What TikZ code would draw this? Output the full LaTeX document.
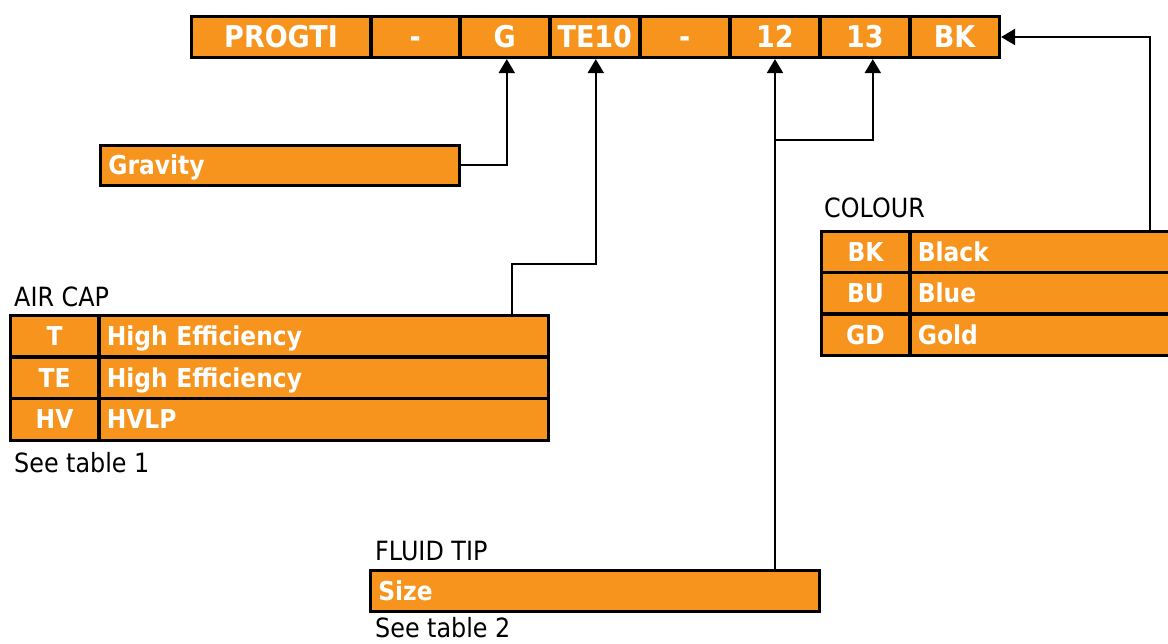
\documentclass[tikz,border=0pt]{standalone}
\usepackage{fontspec}
\setmainfont{DejaVu Sans}[FakeStretch=0.9]
\usetikzlibrary{arrows.meta}
\definecolor{org}{HTML}{F7941D}
\newcommand\cellfnt{\bfseries\fontsize{26}{30}\selectfont}
\newcommand\barfnt{\bfseries\fontsize{30}{34}\selectfont}
\newcommand\lblfnt{\fontsize{26.5}{30}\selectfont}
\begin{document}
\begin{tikzpicture}[x=1pt,y=-1pt,
  cell/.style={draw=black, fill=org, line width=3.6pt, text=white, font=\cellfnt,
    inner sep=0pt, anchor=north west, text height=20pt, text depth=1pt},
  bar/.style={cell, font=\barfnt, text height=22pt, text depth=0pt, minimum height=41pt},
  row/.style={cell, minimum height=41.67pt},
  lcell/.style={row, inner xsep=8pt, align=left},
  lbl/.style={anchor=base west, font=\lblfnt, text=black, inner sep=0pt},
  conn/.style={draw=black, line width=2.2pt},
  arr/.style={conn, -{Triangle[width=16pt,length=14pt]}}
]
\useasboundingbox (0,0) rectangle (1168,643);

\coordinate (ka) at (512,264);
\coordinate (kb) at (775,140);
\coordinate (kc) at (1150,37);

% top code bar
\node[bar, minimum width=179.5pt] (cP) at (189.5,14.5) {PROGTI};
\node[bar, minimum width=89pt] (cD1) at (369,14.5) {-};
\node[bar, minimum width=90pt] (cG) at (458,14.5) {G};
\node[bar, minimum width=90pt] (cTE) at (548,14.5) {TE10};
\node[bar, minimum width=90pt] (cD2) at (638,14.5) {-};
\node[bar, minimum width=90pt] (c12) at (728,14.5) {12};
\node[bar, minimum width=90pt] (c13) at (818,14.5) {13};
\node[bar, minimum width=89.5pt] (cBK) at (908,14.5) {BK};

% gravity
\node[lcell, minimum height=40pt, minimum width=359pt, text width=343pt] (grav) at (98.5,143.5) {Gravity};

% air cap
\node[lbl] (lac) at (14,306) {AIR CAP};
\node[row, minimum width=88.5pt] (acT1) at (8.5,313.5) {T};
\node[lcell, minimum width=449.5pt, text width=433.5pt] (acT2) at (97,313.5) {High Efficiency};
\node[row, minimum width=88.5pt] (acE1) at (8.5,355.17) {TE};
\node[lcell, minimum width=449.5pt, text width=433.5pt] (acE2) at (97,355.17) {High Efficiency};
\node[row, minimum width=88.5pt] (acH1) at (8.5,396.83) {HV};
\node[lcell, minimum width=449.5pt, text width=433.5pt] (acH2) at (97,396.83) {HVLP};
\node[lbl] (lst1) at (14,472) {See table 1};

% colour
\node[lbl] (lcol) at (824,217) {COLOUR};
\node[row, minimum height=41.33pt, minimum width=88.5pt] (coK1) at (819.5,229.5) {BK};
\node[lcell, minimum height=41.33pt, minimum width=267pt, text width=251pt] (coK2) at (908,229.5) {Black};
\node[row, minimum height=41.33pt, minimum width=88.5pt] (coU1) at (819.5,270.83) {BU};
\node[lcell, minimum height=41.33pt, minimum width=267pt, text width=251pt] (coU2) at (908,270.83) {Blue};
\node[row, minimum height=41.33pt, minimum width=88.5pt] (coG1) at (819.5,312.17) {GD};
\node[lcell, minimum height=41.33pt, minimum width=267pt, text width=251pt] (coG2) at (908,312.17) {Gold};

% fluid tip
\node[lbl] (lft) at (375,560) {FLUID TIP};
\node[lcell, minimum height=41pt, minimum width=449pt, text width=433pt] (size) at (368.5,568.5) {Size};
\node[lbl] (lst2) at (375,637) {See table 2};

% connectors
\draw[arr] (grav.east) -| ([xshift=2pt]cG.south);
\draw[arr] (ka |- acT2.north) -- (ka) -| ([xshift=1pt]cTE.south);
\draw[arr] (kb |- size.north) -- (kb |- c12.south);
\draw[arr] (kb) -| ([xshift=8pt]c13.south);
\draw[arr] (kc |- coK2.north) -- (kc) -- (kc -| cBK.east);
\end{tikzpicture}
\end{document}
